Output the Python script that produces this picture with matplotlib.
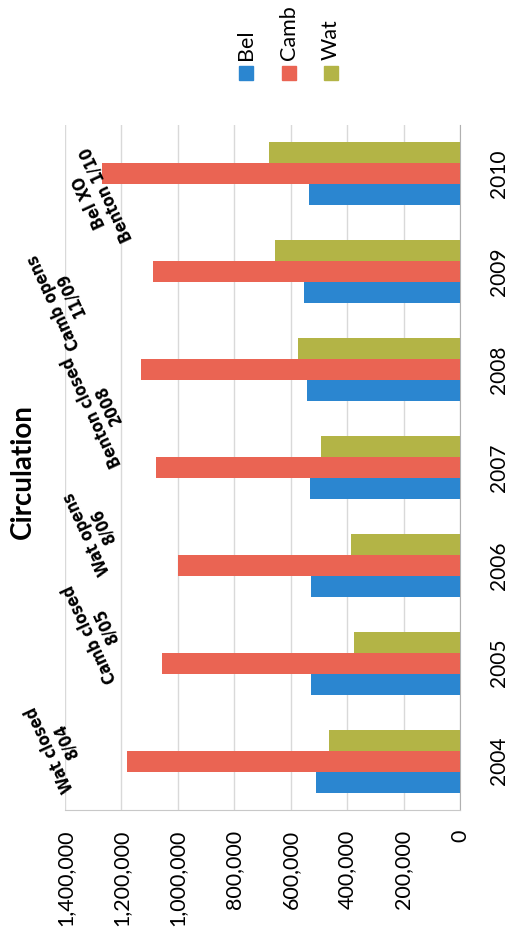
import matplotlib
matplotlib.use("Agg")
import matplotlib.pyplot as plt
from matplotlib.patches import Rectangle
from matplotlib.ticker import FuncFormatter
import numpy as np

years = ["2004", "2005", "2006", "2007", "2008", "2009", "2010"]
bel = [510000, 528000, 528000, 532000, 543000, 553000, 535000]
camb = [1180000, 1057000, 1000000, 1078000, 1131000, 1088000, 1270000]
wat = [465000, 376000, 387000, 493000, 575000, 656000, 677000]
series_names = ["Bel", "Camb", "Wat"]
series_colors = ["#2b86d0", "#ea6453", "#b3b446"]
value_ticks = [0, 200000, 400000, 600000, 800000, 1000000, 1200000, 1400000]

notes = ["Wat closed\n8/04", "Camb closed\n8/05", "Wat opens\n8/06",
         "Benton closed\n2008", "Camb opens\n11/09", "Bel XO\nBenton 1/10"]
note_xy = [(58, 745), (98, 630), (95, 530), (100, 408), (62, 298), (98, 198)]

W, H = 510, 941
fig = plt.figure(figsize=(W / 100, H / 100), dpi=100)
fig.patch.set_facecolor("white")

# plot area in pixel units (left, right, top, bottom)
L, R, T, B = 65, 460, 125, 810
ax = fig.add_axes([L / W, (H - B) / H, (R - L) / W, (B - T) / H])

y = np.arange(len(years))
h = 0.215
for vals, off, col in zip([bel, camb, wat], [-h, 0, h], series_colors):
    ax.barh(y + off, vals, height=h, color=col, zorder=3)

ax.set_xlim(1400000, 0)
ax.set_ylim(-0.5, len(years) - 0.5)
ax.set_xticks(value_ticks)
ax.xaxis.set_major_formatter(FuncFormatter(lambda v, p: f"{int(v):,}"))
ax.grid(axis="x", color="#d9d9d9", linewidth=1.0, zorder=0)
ax.set_yticks(y)
ax.set_yticklabels(years)
ax.yaxis.tick_right()
ax.tick_params(axis="x", length=0, pad=14, labelsize=15.5, labelrotation=90)
ax.tick_params(axis="y", length=0, pad=21, labelsize=15)
for lab in ax.get_xticklabels():
    lab.set_fontfamily("Lato")
    lab.set_va("top")
for lab in ax.get_yticklabels():
    lab.set_fontfamily("Lato")
    lab.set_rotation(90)
    lab.set_va("center")
    lab.set_ha("left")

for side in ["top", "left"]:
    ax.spines[side].set_visible(False)
ax.spines["bottom"].set_color("#c8c8c8")
ax.spines["right"].set_color("#b0b0b0")

# title
fig.text(23 / W, 1 - 472 / H, "Circulation", rotation=90, ha="center", va="center",
         fontsize=20, fontweight="bold", family="Lato")

# legend: swatch with its label reading upward
leg_x = [246, 289, 331]
for name, col, cx in zip(series_names, series_colors, leg_x):
    fig.patches.append(Rectangle(((cx - 7) / W, 1 - 80 / H), 14 / W, 14 / H,
                                 transform=fig.transFigure, color=col))
    fig.text(cx / W, 1 - 60 / H, name, rotation=90, ha="center", va="bottom",
             fontsize=15.5, family="Lato")

# event notes
for txt, (px, py) in zip(notes, note_xy):
    fig.text(px / W, 1 - py / H, txt, rotation=115, rotation_mode="anchor",
             ha="center", va="center", multialignment="center",
             fontsize=12, fontweight="heavy", family="DejaVu Sans",
             fontstretch="condensed", linespacing=1.0)

fig.savefig("out.png", dpi=100, facecolor="white")
